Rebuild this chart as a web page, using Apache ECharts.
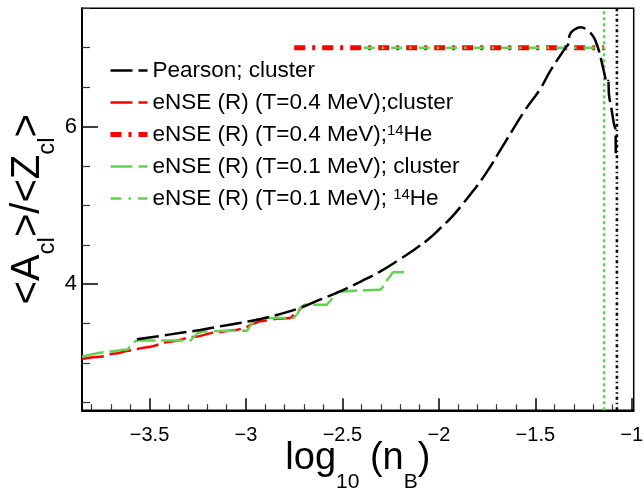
<!DOCTYPE html>
<html>
<head>
<meta charset="utf-8">
<script src="https://cdn.jsdelivr.net/npm/echarts@6/dist/echarts.min.js"></script>
<style>
  html, body { margin: 0; padding: 0; background: #fff; }
  #chart { width: 644px; height: 494px; }
</style>
</head>
<body>
<div id="chart"></div>
<script>
// Axis ticks
const xMajorTicks = [-3.5, -3, -2.5, -2, -1.5, -1];
const xMinorTicks = [-3.8, -3.7, -3.6, -3.4, -3.3, -3.2, -3.1, -2.9, -2.8, -2.7, -2.6,
                     -2.4, -2.3, -2.2, -2.1, -1.9, -1.8, -1.7, -1.6, -1.4, -1.3, -1.2, -1.1];
const yMajorTicks = [4, 6];
const yMinorTicks = [2.5, 3, 3.5, 4.5, 5, 5.5, 6.5, 7, 7.5];

// Pearson; cluster
const pearsonX = [-3.565, -3.40, -3.237, -3.10, -2.961, -2.84, -2.719, -2.62, -2.512, -2.40,
                  -2.305, -2.20, -2.132, -2.05, -1.997, -1.93, -1.869, -1.763, -1.657, -1.550,
                  -1.476, -1.424, -1.363, -1.337, -1.330, -1.322, -1.303, -1.268, -1.234, -1.199,
                  -1.174, -1.156, -1.139, -1.128, -1.122, -1.118, -1.105, -1.093, -1.084, -1.083];
const pearsonY = [3.30, 3.36, 3.42, 3.48, 3.54, 3.61, 3.70, 3.80, 3.91, 4.04,
                  4.16, 4.32, 4.43, 4.58, 4.70, 4.86, 5.04, 5.38, 5.80, 6.22,
                  6.47, 6.70, 6.93, 7.02, 7.04, 7.16, 7.22, 7.26, 7.23, 7.14,
                  6.99, 6.82, 6.64, 6.55, 6.58, 6.40, 6.22, 6.04, 5.95, 5.66];

// eNSE (R), T = 0.4 MeV, cluster
const red04X = [-3.85, -3.755, -3.68, -3.60, -3.514, -3.393, -3.272, -3.151, -3.05, -3.013,
                -2.96, -2.926, -2.840, -2.771, -2.74, -2.702, -2.68];
const red04Y = [3.05, 3.08, 3.12, 3.16, 3.20, 3.27, 3.33, 3.39, 3.42, 3.44,
                3.50, 3.53, 3.56, 3.57, 3.64, 3.72, 3.74];

// eNSE (R), T = 0.1 MeV, cluster
const green01X = [-3.85, -3.704, -3.615, -3.598, -3.585, -3.565, -3.445, -3.289, -3.27, -3.25,
                  -3.22, -3.10, -2.995, -2.975, -2.955, -2.926, -2.754, -2.735, -2.715, -2.695,
                  -2.581, -2.565, -2.545, -2.52, -2.40, -2.305, -2.285, -2.26, -2.236, -2.149];
const green01Y = [3.08, 3.145, 3.17, 3.21, 3.26, 3.285, 3.285, 3.285, 3.33, 3.38,
                  3.40, 3.41, 3.41, 3.48, 3.54, 3.57, 3.57, 3.62, 3.71, 3.74,
                  3.74, 3.78, 3.86, 3.905, 3.92, 3.93, 3.97, 4.08, 4.15, 4.16];

// 14He plateaus
const he14RedX = [-2.75, -1.143];
const he14RedY = [7, 7];
const he14GreenX = [-2.39, -1.143];
const he14GreenY = [7, 7];

// vertical markers
const markGreenX = -1.143;
const markBlackX = -1.077;

const xMin = -3.85, xMax = -0.99, yMin = 2.4, yMax = 7.5;

const names = [
  'Pearson; cluster',
  'eNSE (R) (T=0.4 MeV);cluster',
  'eNSE (R) (T=0.4 MeV);14He',
  'eNSE (R) (T=0.1 MeV); cluster',
  'eNSE (R) (T=0.1 MeV); 14He'
];

const FONT = 'Liberation Sans, Arial, Helvetica, sans-serif';
const RED = '#ff0000';
const GREEN = '#62d152';

function zip(xs, ys) { return xs.map((x, i) => [x, ys[i]]); }
function minus(v) { return v < 0 ? '\u2212' + Math.abs(v) : String(v); }

const lineStyles = [
  { color: '#000', width: 2.5, type: [22, 6] },
  { color: RED, width: 2.5, type: [22, 6] },
  { color: RED, width: 5, type: [11, 7, 3, 7] },
  { color: GREEN, width: 2.5, type: [22, 6] },
  { color: GREEN, width: 2.5, type: [11, 7, 2.5, 7] }
];

const chart = echarts.init(document.getElementById('chart'), null, { renderer: 'canvas' });

const option = {
  animation: false,
  backgroundColor: '#fff',
  grid: {
    left: 82, right: 10.3, top: 8.3, bottom: 83.7,
    show: true, borderColor: '#000', borderWidth: 1.5,
    outerBoundsMode: 'none'
  },
  legend: {
    orient: 'vertical',
    left: 103, top: 54,
    itemWidth: 37, itemHeight: 12, itemGap: 9,
    data: names.map((n, i) => ({ name: n, lineStyle: Object.assign({}, lineStyles[i]) })),
    itemStyle: { opacity: 0 },
    formatter: function (name) {
      if (name.endsWith('14He')) {
        return '{t|' + name.slice(0, -4) + '}{sup|14}{t|He}';
      }
      return '{t|' + name + '}';
    },
    textStyle: {
      color: '#000', fontFamily: FONT, fontSize: 22.5,
      rich: {
        t: { fontSize: 22.5, fontFamily: FONT, color: '#000', lineHeight: 22 },
        sup: { fontSize: 15, fontFamily: FONT, color: '#000', lineHeight: 10, verticalAlign: 'top' }
      }
    }
  },
  xAxis: [
    {
      type: 'value', min: xMin, max: xMax, position: 'bottom',
      name: '{m|log}{s|10}{m| (n}{s|B}{m|)}',
      nameLocation: 'middle', nameGap: 29, nameMoveOverlap: false,
      nameTextStyle: {
        rich: {
          m: { fontSize: 38, fontFamily: FONT, color: '#000', verticalAlign: 'top' },
          s: { fontSize: 21, fontFamily: FONT, color: '#000', verticalAlign: 'top', padding: [32, 0, 0, 0] }
        }
      },
      axisLine: { show: true, onZero: false, lineStyle: { color: '#000', width: 2 } },
      axisTick: { show: true, inside: true, length: 12, customValues: xMajorTicks,
                  lineStyle: { color: '#000', width: 1.5 } },
      axisLabel: { show: true, customValues: xMajorTicks, formatter: minus,
                   fontSize: 20, fontFamily: FONT, color: '#000', margin: 15 },
      splitLine: { show: false }
    },
    {
      type: 'value', min: xMin, max: xMax, position: 'bottom', offset: 0,
      axisLine: { show: false },
      axisTick: { show: true, inside: true, length: 6, customValues: xMinorTicks,
                  lineStyle: { color: '#333', width: 1.2 } },
      axisLabel: { show: false },
      splitLine: { show: false }
    }
  ],
  yAxis: [
    {
      type: 'value', min: yMin, max: yMax, position: 'left',
      name: '{m|<A}{s|cl}{m|>/<Z}{s|cl}{m|>}',
      nameLocation: 'middle', nameGap: 23, nameMoveOverlap: false,
      nameTextStyle: {
        rich: {
          m: { fontSize: 40, fontFamily: FONT, color: '#000', verticalAlign: 'top' },
          s: { fontSize: 24, fontFamily: FONT, color: '#000', verticalAlign: 'top', padding: [27, 0, 0, 0] }
        }
      },
      axisLine: { show: true, onZero: false, lineStyle: { color: '#000', width: 2 } },
      axisTick: { show: true, inside: true, length: 16, customValues: yMajorTicks,
                  lineStyle: { color: '#000', width: 1.5 } },
      axisLabel: { show: true, customValues: yMajorTicks, formatter: minus,
                   fontSize: 22, fontFamily: FONT, color: '#000', margin: 5 },
      splitLine: { show: false }
    },
    {
      type: 'value', min: yMin, max: yMax, position: 'left', offset: 0,
      axisLine: { show: false },
      axisTick: { show: true, inside: true, length: 8, customValues: yMinorTicks,
                  lineStyle: { color: '#333', width: 1.2 } },
      axisLabel: { show: false },
      splitLine: { show: false }
    }
  ],
  series: [
    {
      name: 'markGreen', type: 'line', symbol: 'none', silent: true,
      data: [[markGreenX, yMin], [markGreenX, yMax]],
      lineStyle: { color: GREEN, width: 2.5, type: [3, 3] }
    },
    {
      name: 'markBlack', type: 'line', symbol: 'none', silent: true,
      data: [[markBlackX, yMin], [markBlackX, yMax]],
      lineStyle: { color: '#000', width: 2.6, type: [3, 3, 1.5, 3] }
    },
    {
      name: names[2], type: 'line', symbol: 'none',
      data: zip(he14RedX, he14RedY),
      lineStyle: lineStyles[2], itemStyle: { color: RED }
    },
    {
      name: names[4], type: 'line', symbol: 'none',
      data: zip(he14GreenX, he14GreenY),
      lineStyle: lineStyles[4], itemStyle: { color: GREEN }
    },
    {
      name: names[1], type: 'line', symbol: 'none', smooth: 0.3, smoothMonotone: 'x',
      data: zip(red04X, red04Y),
      lineStyle: lineStyles[1], itemStyle: { color: RED }
    },
    {
      name: names[3], type: 'line', symbol: 'none', smooth: 0.3, smoothMonotone: 'x',
      data: zip(green01X, green01Y),
      lineStyle: lineStyles[3], itemStyle: { color: GREEN }
    },
    {
      name: names[0], type: 'line', symbol: 'none', smooth: 0.4,
      data: zip(pearsonX, pearsonY),
      lineStyle: lineStyles[0], itemStyle: { color: '#000' }
    }
  ]
};

chart.setOption(option);
</script>
</body>
</html>
